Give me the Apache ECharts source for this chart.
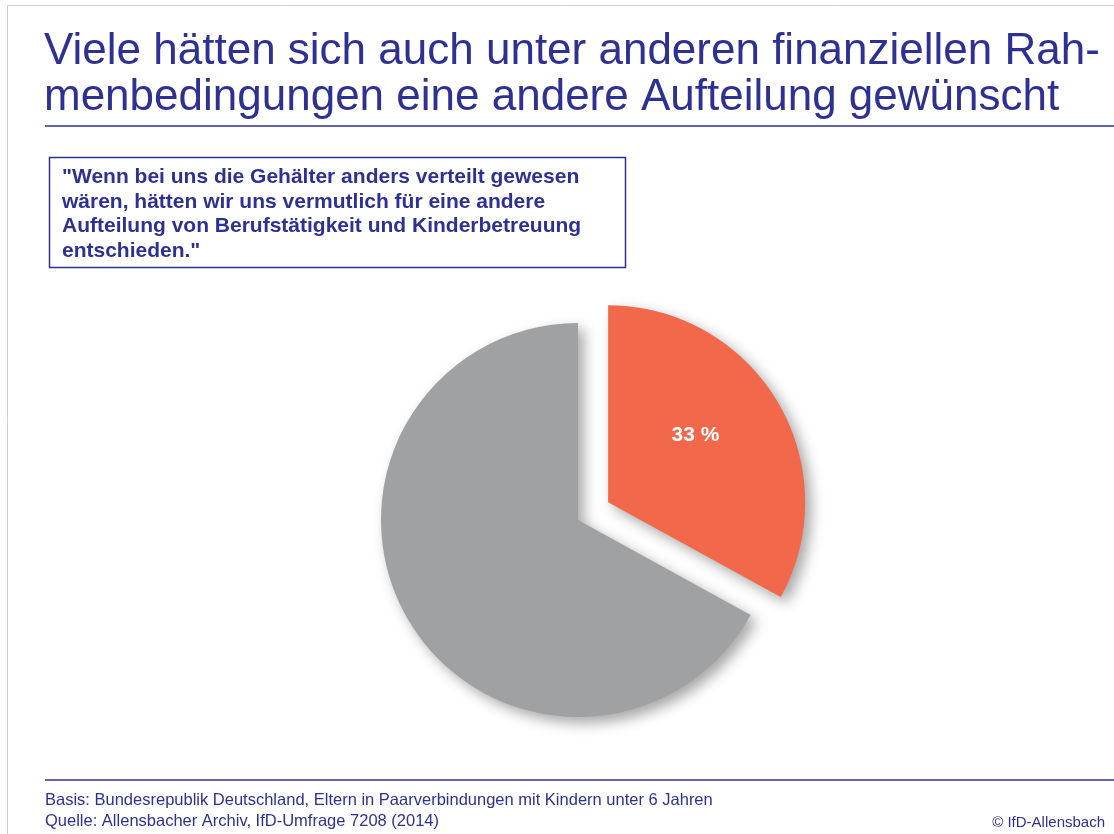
<!DOCTYPE html>
<html>
<head>
<meta charset="utf-8">
<script src="https://cdn.jsdelivr.net/npm/echarts@6/dist/echarts.min.js"></script>
<style>
  html, body { margin: 0; padding: 0; background: #fff; }
  #main { width: 1114px; height: 834px; }
</style>
</head>
<body>
<div id="main"></div>
<script>
// data
var categories = ['andere Aufteilung', 'nicht'];
var values = [33, 67];
var sliceColors = ['#F1684B', '#A0A1A3'];

var headline = 'Viele hätten sich auch unter anderen finanziellen Rah-\nmenbedingungen eine andere Aufteilung gewünscht';
var quote = '"Wenn bei uns die Gehälter anders verteilt gewesen\nwären, hätten wir uns vermutlich für eine andere\nAufteilung von Berufstätigkeit und Kinderbetreuung\nentschieden."';
var basis = 'Basis: Bundesrepublik Deutschland, Eltern in Paarverbindungen mit Kindern unter 6 Jahren';
var quelle = 'Quelle: Allensbacher Archiv, IfD-Umfrage 7208 (2014)';
var copyright = '© IfD-Allensbach';

var navy = '#2E3192';

var chart = echarts.init(document.getElementById('main'));

var pieData = categories.map(function (c, i) {
  return {
    name: c,
    value: values[i],
    selected: i === 0,
    itemStyle: { color: sliceColors[i] },
    label: { show: i === 0 }
  };
});

var option = {
  backgroundColor: '#fff',
  animation: false,
  title: [{
    text: headline,
    left: 44,
    top: 29,
    padding: 0,
    textStyle: {
      fontFamily: 'Liberation Sans',
      fontWeight: 'normal',
      fontSize: 44,
      lineHeight: 46,
      color: navy
    }
  }, {
    text: quote,
    left: 62,
    top: 165,
    padding: 0,
    textStyle: {
      fontFamily: 'Liberation Sans',
      fontWeight: 'bold',
      fontSize: 21,
      lineHeight: 24.5,
      color: navy
    }
  }],
  graphic: [
    // frame
    { type: 'line', shape: { x1: 7, y1: 5.5, x2: 1114, y2: 5.5 }, style: { stroke: '#cfcfcf', lineWidth: 1 } },
    { type: 'line', shape: { x1: 7.5, y1: 5, x2: 7.5, y2: 834 }, style: { stroke: '#cfcfcf', lineWidth: 1 } },
    // rules
    { type: 'line', shape: { x1: 45, y1: 126, x2: 1114, y2: 126 }, style: { stroke: navy, lineWidth: 1.5 } },
    { type: 'line', shape: { x1: 45, y1: 780, x2: 1114, y2: 780 }, style: { stroke: navy, lineWidth: 1.5 } },
    // quote box
    { type: 'rect', shape: { x: 49.5, y: 157.5, width: 576, height: 110 }, style: { fill: 'none', stroke: navy, lineWidth: 1.5 } },
    // footer
    { type: 'text', left: 45, top: 792, style: { text: basis, font: '16.5px "Liberation Sans"', fill: navy } },
    { type: 'text', left: 45, top: 813, style: { text: quelle, font: '16.5px "Liberation Sans"', fill: navy } },
    { type: 'text', right: 9, top: 815, style: { text: copyright, font: '15px "Liberation Sans"', fill: navy } }
  ],
  series: [{
    type: 'pie',
    center: [578, 520],
    radius: 197,
    startAngle: 90,
    clockwise: true,
    selectedMode: 'single',
    selectedOffset: 35,
    silent: true,
    data: pieData,
    itemStyle: {
      shadowBlur: 14,
      shadowColor: 'rgba(0,0,0,0.35)',
      shadowOffsetX: 6,
      shadowOffsetY: 6
    },
    label: {
      position: 'inside',
      // empty second line lifts the value towards the slice's upper part
      formatter: '{c} %\n ',
      color: '#fff',
      fontFamily: 'Liberation Sans',
      fontWeight: 'bold',
      fontSize: 21,
      lineHeight: 30
    },
    labelLine: { show: false },
    emphasis: { disabled: true }
  }]
};

chart.setOption(option);
</script>
</body>
</html>
